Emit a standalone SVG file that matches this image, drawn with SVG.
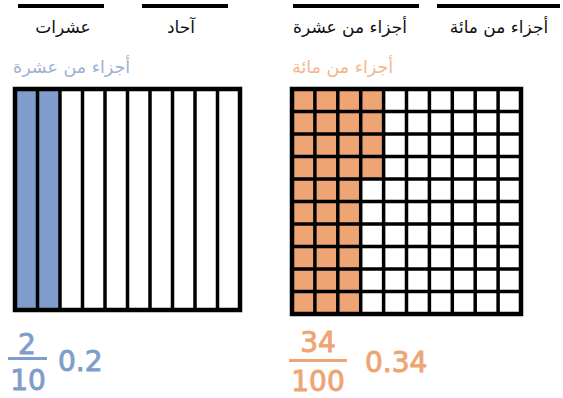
<svg xmlns="http://www.w3.org/2000/svg" width="563" height="398" viewBox="0 0 563 398">
<style>
.bar{stroke:#000;stroke-width:4;fill:none}
.lbl{font-family:"DejaVu Sans",sans-serif;font-size:17px;fill:#111;text-anchor:middle}
.hd{font-family:"DejaVu Sans",sans-serif;font-size:17.5px}
.grid{stroke:#000;stroke-width:3.5;fill:none}
.outer{stroke:#000;stroke-width:4.5;fill:none}
.num{font-family:"DejaVu Sans",sans-serif;font-size:28px;stroke-width:0.9}
.blue{fill:#7f9dca;stroke:#7f9dca}
.orange{fill:#eea473;stroke:#eea473}
.nf{stroke:none}
</style>
<rect width="563" height="398" fill="#fff"/>
<g id="place-value-headers">
<line class="bar" x1="18" y1="6" x2="104" y2="6"/>
<line class="bar" x1="142" y1="6" x2="228" y2="6"/>
<line class="bar" x1="293" y1="6" x2="419" y2="6"/>
<line class="bar" x1="437" y1="6" x2="560" y2="6"/>
<text class="lbl" x="63" y="33">عشرات</text>
<text class="lbl" x="181" y="33">آحاد</text>
<text class="lbl" x="350" y="33">أجزاء من عشرة</text>
<text class="lbl" x="499" y="33">أجزاء من مائة</text>
</g>
<g id="tenths">
<text class="hd" x="13" y="73" fill="#9cb2d3">أجزاء من عشرة</text>
<rect class="blue nf" x="15" y="89" width="45" height="221"/>
<g class="grid">
<line x1="37.5" y1="89" x2="37.5" y2="310"/>
<line x1="60" y1="89" x2="60" y2="310"/>
<line x1="82.5" y1="89" x2="82.5" y2="310"/>
<line x1="105" y1="89" x2="105" y2="310"/>
<line x1="127.5" y1="89" x2="127.5" y2="310"/>
<line x1="150" y1="89" x2="150" y2="310"/>
<line x1="172.5" y1="89" x2="172.5" y2="310"/>
<line x1="195" y1="89" x2="195" y2="310"/>
<line x1="217.5" y1="89" x2="217.5" y2="310"/>
</g>
<rect class="outer" x="15" y="89" width="225" height="221"/>
</g>
<g id="hundredths">
<text class="hd" x="292" y="73" fill="#f3b78d">أجزاء من مائة</text>
<rect class="orange nf" x="292" y="89" width="68.7" height="225"/>
<rect class="orange nf" x="360.7" y="89" width="22.9" height="90"/>
<g class="grid">
<line x1="314.9" y1="89" x2="314.9" y2="314"/>
<line x1="337.8" y1="89" x2="337.8" y2="314"/>
<line x1="360.7" y1="89" x2="360.7" y2="314"/>
<line x1="383.6" y1="89" x2="383.6" y2="314"/>
<line x1="406.5" y1="89" x2="406.5" y2="314"/>
<line x1="429.4" y1="89" x2="429.4" y2="314"/>
<line x1="452.3" y1="89" x2="452.3" y2="314"/>
<line x1="475.2" y1="89" x2="475.2" y2="314"/>
<line x1="498.1" y1="89" x2="498.1" y2="314"/>
<line x1="292" y1="111.5" x2="521" y2="111.5"/>
<line x1="292" y1="134" x2="521" y2="134"/>
<line x1="292" y1="156.5" x2="521" y2="156.5"/>
<line x1="292" y1="179" x2="521" y2="179"/>
<line x1="292" y1="201.5" x2="521" y2="201.5"/>
<line x1="292" y1="224" x2="521" y2="224"/>
<line x1="292" y1="246.5" x2="521" y2="246.5"/>
<line x1="292" y1="269" x2="521" y2="269"/>
<line x1="292" y1="291.5" x2="521" y2="291.5"/>
</g>
<rect class="outer" x="292" y="89" width="229" height="225"/>
</g>
<g id="connectors"/>
<g id="tenths-value">
<text class="num blue" x="27" y="354" text-anchor="middle">2</text>
<rect class="blue nf" x="8" y="357" width="39" height="3"/>
<text class="num blue" x="28" y="390" text-anchor="middle">10</text>
<text class="num blue" x="58" y="371">0.2</text>
</g>
<g id="hundredths-value">
<text class="num orange" x="318" y="352" text-anchor="middle">34</text>
<rect class="orange nf" x="289" y="359" width="58" height="3"/>
<text class="num orange" x="318" y="391" text-anchor="middle">100</text>
<text class="num orange" x="365" y="372">0.34</text>
</g>
</svg>
